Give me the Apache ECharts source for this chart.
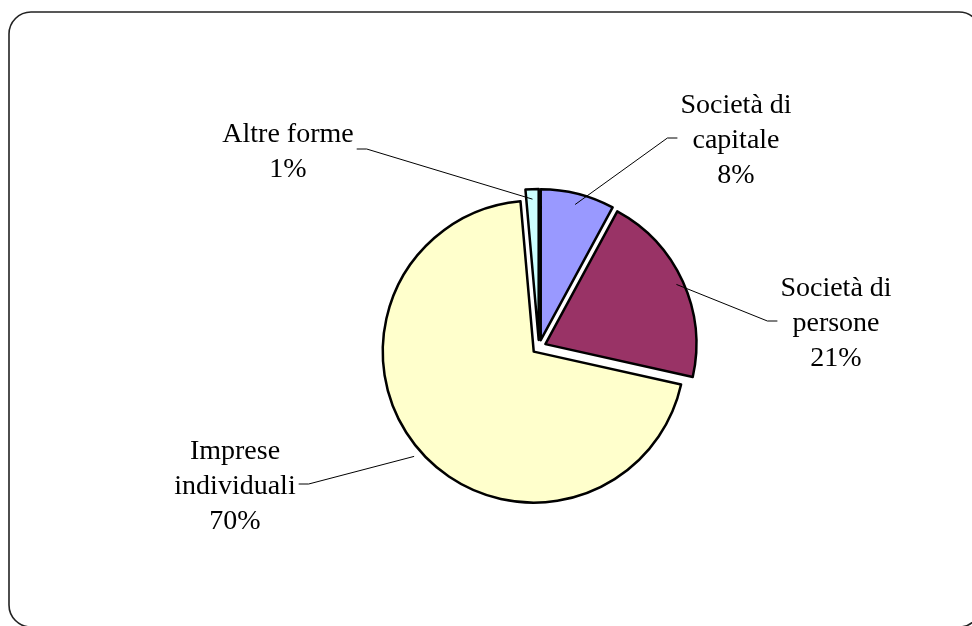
<!DOCTYPE html>
<html>
<head>
<meta charset="utf-8">
<style>
  html, body { margin: 0; padding: 0; background: #ffffff; }
  #chart { width: 972px; height: 626px; }
</style>
<script src="https://cdn.jsdelivr.net/npm/echarts@6/dist/echarts.min.js"></script>
</head>
<body>
<div id="chart"></div>
<script>
// ---- data ----
var categories = ['Società di\ncapitale', 'Società di\npersone', 'Imprese\nindividuali', 'Altre forme'];
var values = [7.9, 20.6, 70.1, 1.4];
var colors = ['#9999FF', '#993366', '#FFFFCC', '#CCFFFF'];

// ---- layout (pixels) ----
var CENTER = [539, 347];
var RADIUS = 151;
var EXPLODE = 7;
var LABEL_POS = [[736, 141], [836, 324], [235, 487], [288, 152]];
var LINE_DY = -3;
var LINE_START_R = [147, 151, 166, 148];
var FONT = '28px "Liberation Serif"';

var total = values.reduce(function (a, b) { return a + b; }, 0);
function midAngle(i) {
  var cum = 0;
  for (var k = 0; k < i; k++) cum += values[k];
  return ((cum + values[i] / 2) / total) * Math.PI * 2; // clockwise from 12 o'clock
}
var ctx = document.createElement('canvas').getContext('2d');
ctx.font = FONT;
function textWidth(s) {
  return Math.max.apply(null, s.split('\n').map(function (l) { return ctx.measureText(l).width; }));
}

var chart = echarts.init(document.getElementById('chart'), null, { renderer: 'canvas' });

var data = categories.map(function (c, i) {
  return { name: c, value: values[i], selected: true, itemStyle: { color: colors[i] } };
});

var graphics = [{
  type: 'rect',
  shape: { x: 9, y: 12, width: 972, height: 615, r: 22 },
  style: { fill: 'none', stroke: '#222', lineWidth: 1.6 },
  silent: true
}];

categories.forEach(function (c, i) {
  var pct = Math.round(values[i] / total * 100);
  var txt = c + '\n' + pct + '%';
  var pos = LABEL_POS[i];
  var w = textWidth(txt);
  var right = pos[0] > CENTER[0];
  var edgeX = right ? pos[0] - w / 2 - 3 : pos[0] + w / 2 + 3;
  var elbowX = right ? edgeX - 10 : edgeX + 10;
  var a = midAngle(i);
  var start = [CENTER[0] + Math.sin(a) * LINE_START_R[i], CENTER[1] - Math.cos(a) * LINE_START_R[i]];
  graphics.push({
    type: 'polyline',
    silent: true,
    z: 10,
    shape: { points: [start, [elbowX, pos[1] + LINE_DY], [edgeX, pos[1] + LINE_DY]] },
    style: { stroke: '#000', lineWidth: 1, fill: null }
  });
  graphics.push({
    type: 'text',
    silent: true,
    z: 10,
    x: pos[0],
    y: pos[1],
    style: {
      text: txt,
      font: FONT,
      fill: '#000',
      align: 'center',
      verticalAlign: 'middle',
      lineHeight: 35
    }
  });
});

chart.setOption({
  animation: false,
  backgroundColor: '#ffffff',
  graphic: graphics,
  series: [{
    type: 'pie',
    center: CENTER,
    radius: RADIUS,
    startAngle: 90,
    clockwise: true,
    selectedMode: 'multiple',
    selectedOffset: EXPLODE,
    percentPrecision: 0,
    emphasis: { disabled: true },
    select: { itemStyle: { borderColor: '#000', borderWidth: 2.5 } },
    itemStyle: { borderColor: '#000', borderWidth: 2.5 },
    label: { show: false },
    labelLine: { show: false },
    data: data
  }]
});
</script>
</body>
</html>
